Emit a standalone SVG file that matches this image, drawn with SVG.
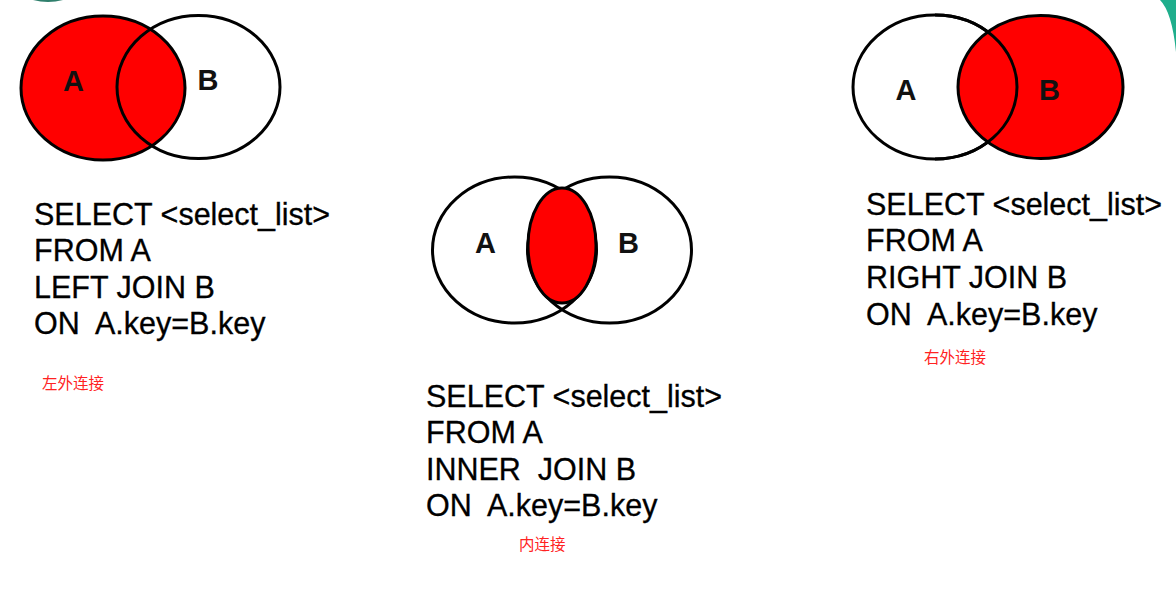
<svg xmlns="http://www.w3.org/2000/svg" width="1176" height="591" viewBox="0 0 1176 591">
<style>
.bg{fill:#ffffff}
.v{stroke:#000;stroke-width:3}
.w{fill:none}
.r{fill:#ff0000}
.lab{font-family:"Liberation Sans",Arial,sans-serif;font-weight:bold;font-size:29px;fill:#111;text-anchor:middle}
.sql{font-family:"Liberation Sans",Arial,sans-serif;font-size:30.5px;fill:#000;stroke:#000;stroke-width:0.3}
.cn{font-family:"Noto Sans CJK SC","Noto Sans",sans-serif;font-size:15.5px;fill:#ff2222}
</style>
<rect class="bg" x="0" y="0" width="1176" height="591"/>
<path d="M33 0 Q48 4 63 0 Z" fill="#2f7f6c"/>
<path d="M1160 0 Q1172 12 1176 52 L1176 0 Z" fill="#1fae8c"/>

<g id="left-join">
  <ellipse class="r v" cx="103" cy="88" rx="82" ry="72"/>
  <ellipse class="w v" cx="198.5" cy="87" rx="81.5" ry="71.5"/>
  <text class="lab" x="73.5" y="91">A</text>
  <text class="lab" x="208" y="90">B</text>
  <text class="sql" x="34" y="225">SELECT &lt;select_list&gt;</text>
  <text class="sql" x="34" y="261">FROM A</text>
  <text class="sql" x="34" y="297.5" xml:space="preserve">LEFT JOIN B</text>
  <text class="sql" x="34" y="334" xml:space="preserve">ON  A.key=B.key</text>
  <text class="cn" x="42" y="389">左外连接</text>
</g>

<g id="inner-join">
  <ellipse class="w v" cx="514.5" cy="250" rx="82" ry="73"/>
  <ellipse class="w v" cx="609.5" cy="250" rx="82" ry="73"/>
  <ellipse class="r v" cx="562" cy="245.5" rx="34" ry="57.5"/>
  <text class="lab" x="485.5" y="253">A</text>
  <text class="lab" x="628.5" y="253">B</text>
  <text class="sql" x="426" y="406.5">SELECT &lt;select_list&gt;</text>
  <text class="sql" x="426" y="443">FROM A</text>
  <text class="sql" x="426" y="479.5" xml:space="preserve">INNER  JOIN B</text>
  <text class="sql" x="426" y="516" xml:space="preserve">ON  A.key=B.key</text>
  <text class="cn" x="519" y="550">内连接</text>
</g>

<g id="right-join">
  <ellipse class="w v" cx="935" cy="87" rx="82" ry="72"/>
  <ellipse class="r v" cx="1040.5" cy="87" rx="82.5" ry="71.5"/>
  <path class="w v" d="M1017 87 A82 72 0 0 1 935 159 M935 15 A82 72 0 0 1 1017 87"/>
  <text class="lab" x="906" y="100">A</text>
  <text class="lab" x="1049.5" y="100">B</text>
  <text class="sql" x="866" y="215">SELECT &lt;select_list&gt;</text>
  <text class="sql" x="866" y="251">FROM A</text>
  <text class="sql" x="866" y="288" xml:space="preserve">RIGHT JOIN B</text>
  <text class="sql" x="866" y="324.5" xml:space="preserve">ON  A.key=B.key</text>
  <text class="cn" x="924" y="363">右外连接</text>
</g>
</svg>
